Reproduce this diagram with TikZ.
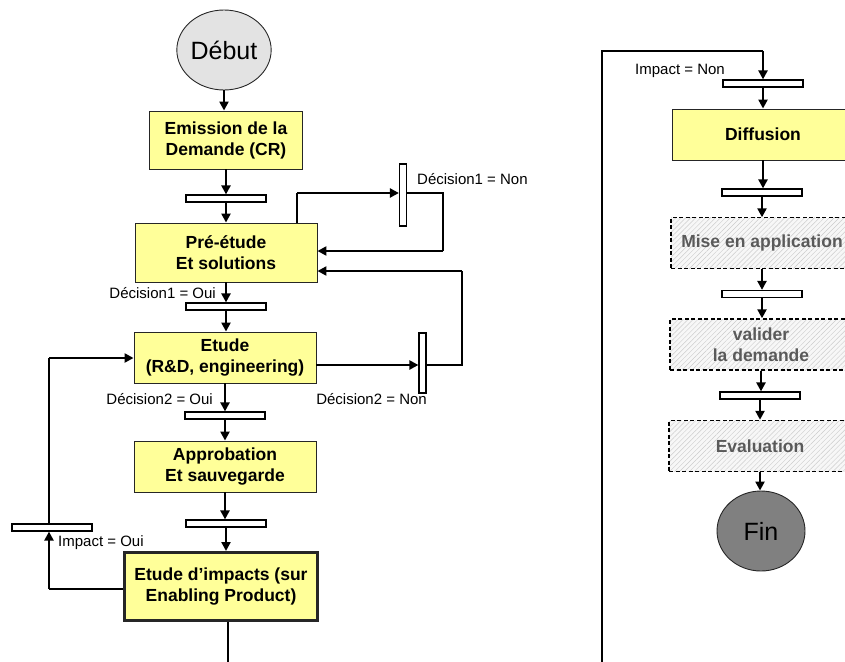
\documentclass[tikz,border=0pt]{standalone}
\usepackage{fontspec}
\setmainfont{Liberation Sans}
\usepackage{tikz}
\usetikzlibrary{arrows.meta,shapes.geometric,positioning,patterns.meta}

\definecolor{procyellow}{HTML}{FFFF99}
\definecolor{startgray}{HTML}{E3E3E3}
\definecolor{endgray}{HTML}{808080}
\definecolor{todotext}{HTML}{5A5A5A}

\begin{document}
\begin{tikzpicture}[
  x=1pt, y=-1pt,
  >={Triangle[length=9pt,width=9pt]},
  box/.style={draw=black!85, line width=0.9pt, align=center, inner sep=0pt,
              minimum width=182pt, minimum height=51pt,
              font=\fontsize{17.5}{21}\selectfont\bfseries},
  procbox/.style={box, fill=procyellow},
  todobox/.style={box, draw=black, line width=1.4pt, dash pattern=on 4pt off 2.5pt,
                  text=todotext, preaction={fill=gray!6},
                  pattern={Lines[angle=45,distance=3.5pt,line width=0.45pt]},
                  pattern color=gray!40},
  roundnode/.style={ellipse, draw=black!85, line width=0.9pt, inner sep=0pt,
                    minimum width=88pt, minimum height=80pt,
                    font=\fontsize{25}{30}\selectfont},
  startnode/.style={roundnode, fill=startgray},
  endnode/.style={roundnode, fill=endgray},
  hbar/.style={draw, fill=white, line width=1.2pt, inner sep=0pt,
               minimum width=80pt, minimum height=7pt},
  vbar/.style={draw, fill=white, line width=1.2pt, inner sep=0pt,
               minimum width=7pt, minimum height=62pt},
  cond/.style={font=\fontsize{15}{18}\selectfont, inner sep=0pt},
  arrow/.style={->, line width=2.8pt},
  link/.style={line width=1.2pt},
]
\useasboundingbox (0,0) rectangle (845,661);
\clip (0,0) rectangle (845,661);

% main chain, left
\node[startnode] (debut) at (224,50) {Début};
\node[procbox, minimum width=153pt, minimum height=58pt] (emission) at (226,140)
  {Emission de la\\Demande (CR)};
\node[hbar] (bar1) at (226,198.5) {};
\node[procbox, minimum height=59pt] (pre) at (226,252.5) {Pré-étude\\Et solutions};
\node[hbar] (bar2) at (226,306.5) {};
\node[procbox] (etude) at (225,357.5) {Etude\\(R\&D, engineering)};
\node[hbar] (bar3) at (225,415.5) {};
\node[procbox] (appro) at (225,466.5) {Approbation\\Et sauvegarde};
\node[hbar] (bar4) at (226,523.5) {};
\node[procbox, line width=3pt, minimum width=193pt, minimum height=68pt] (impacts)
  at (221,586.5) {Etude d’impacts (sur\\Enabling Product)};

% decision bars
\node[hbar] (barimp) at (52,527.5) {};
\node[vbar] (dec1) at (403,195) {};
\node[vbar, minimum height=60pt] (dec2) at (422.5,363) {};

\node[cond, anchor=east] (oui1) at (216,293) {Décision1 = Oui};
\node[cond, anchor=west] (non1) at (417,179) {Décision1 = Non};
\node[cond, anchor=east] (oui2) at (213,399) {Décision2 = Oui};
\node[cond, anchor=east] (non2) at (427,399) {Décision2 = Non};
\node[cond, anchor=west] (impoui) at (58,543) {Impact = Oui};
\node[cond, anchor=east] (impnon) at (725,71) {Impact = Non};

% main chain, right
\node[hbar] (rbar0) at (763,83.5) {};
\node[procbox] (diffusion) at (763,134.5) {Diffusion};
\node[hbar] (rbar1) at (762,192.5) {};
\node[todobox] (mise) at (762,243) {Mise en application};
\node[hbar] (rbar2) at (762,294) {};
\node[todobox] (valider) at (761,344.5) {valider\\la demande};
\node[hbar] (rbar3) at (760,395.5) {};
\node[todobox] (evaluation) at (760,446) {Evaluation};
\node[endnode] (fin) at (761,531) {Fin};

\foreach \a/\b in {debut/emission, emission/bar1, bar1/pre, pre/bar2, bar2/etude,
                   etude/bar3, bar3/appro, appro/bar4, bar4/impacts,
                   rbar0/diffusion, diffusion/rbar1, rbar1/mise, mise/rbar2,
                   rbar2/valider, valider/rbar3, rbar3/evaluation, evaluation/fin}
  \draw[arrow] (\a) -- (\a |- \b.north);

% Decision1 = Non
\coordinate (up1) at (297,193);
\coordinate (ret1) at (443,193);
\coordinate (back1) at (443,251);
\draw[link] (pre.north -| up1) -- (up1);
\draw[arrow] (up1) -- (up1 -| dec1.west);
\draw[link] (up1 -| dec1.east) -- (ret1) -- (back1);
\draw[arrow] (back1) -- (back1 -| pre.east);

% Decision2 = Non
\coordinate (ret2) at (462,365);
\coordinate (back2) at (462,271);
\draw[arrow] (etude.east |- ret2) -- (dec2.west |- ret2);
\draw[link] (dec2.east |- ret2) -- (ret2) -- (back2);
\draw[arrow] (back2) -- (back2 -| pre.east);

% Impact = Oui
\coordinate (low) at (49,589);
\coordinate (high) at (49,358);
\draw[link] (impacts.west |- low) -- (low);
\draw[arrow] (low) -- (low |- barimp.south);
\draw[link] (low |- barimp.north) -- (high);
\draw[arrow] (high) -- (high -| etude.west);

% Impact = Non
\coordinate (down) at (228,670);
\coordinate (frame) at (602,670);
\coordinate (corner) at (602,51);
\coordinate (entry) at (763,51);
\draw[link] (impacts.south -| down) -- (down);
\draw[link] (frame) -- (corner) -- (entry);
\draw[arrow] (entry) -- (entry |- rbar0.north);

\end{tikzpicture}
\end{document}
